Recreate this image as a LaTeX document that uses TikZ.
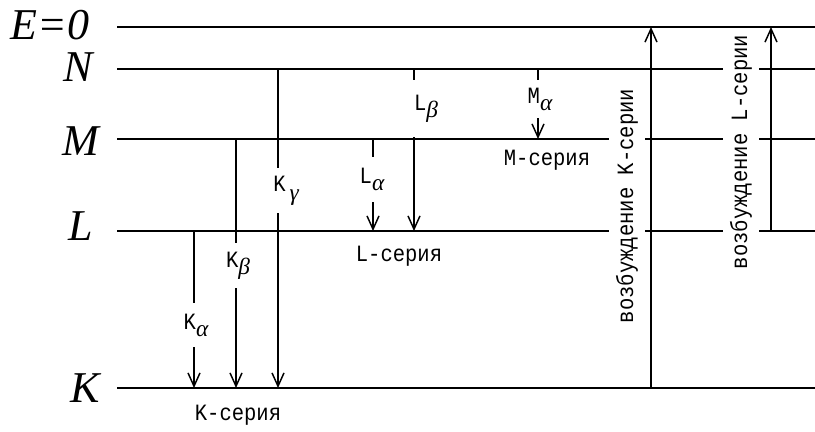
\documentclass[tikz,border=0pt]{standalone}
\usepackage{fontspec}
\setmainfont{Liberation Serif}
\newfontfamily\seriesfont[FakeStretch=0.88]{Liberation Mono}
\newfontfamily\greekfont{Liberation Serif}
\newcommand\lowsub[2][0.3em]{\raisebox{-#1}{\greekfont\itshape #2}}
\usetikzlibrary{arrows.meta}

\begin{document}
\begin{tikzpicture}[
  x=0.75pt, y=-0.75pt,
  lvl/.style={font=\fontsize{33}{33}\selectfont\itshape, inner sep=0pt},
  lab/.style={font=\seriesfont\fontsize{17.5}{18}\selectfont, inner sep=0pt},
  vlab/.style={lab, rotate=90, fill=white, inner xsep=0pt, inner ysep=5pt},
  level/.style={line width=1.3pt},
  line/.style={line width=1.3pt},
  arrow/.style={line width=1.3pt, -{Straight Barb[length=10pt, width=9pt, line width=1.1pt]}}
]
\useasboundingbox (0,0) rectangle (815,432);

% energy levels
\node[lvl] (lvE) at (50,25) {E=0};
\node[lvl] (lvN) at (78,67) {N};
\node[lvl] (lvM) at (81,141) {M};
\node[lvl] (lvL) at (81,226) {L};
\node[lvl] (lvK) at (85,388) {K};

\coordinate (E0) at (117,27);  \coordinate (E1) at (815,27);
\coordinate (N0) at (117,69);  \coordinate (N1) at (815,69);
\coordinate (M0) at (117,139); \coordinate (M1) at (815,139);
\coordinate (L0) at (117,231); \coordinate (L1) at (815,231);
\coordinate (K0) at (117,388); \coordinate (K1) at (815,388);

\draw[level] (E0) -- (E1);
\draw[level] (N0) -- (N1);
\draw[level] (M0) -- (M1);
\draw[level] (L0) -- (L1);
\draw[level] (K0) -- (K1);

% K series
\node[lab, minimum height=33pt] (Ka) at (196,325) {K\lowsub{α}};
\node[lab, minimum height=34pt] (Kb) at (238,265.5) {K\lowsub{β}};
\node[lab, minimum height=34pt] (Kg) at (286,190.5) {K\,\lowsub[0.4em]{γ}};
\coordinate (ka) at (194,0);
\coordinate (kb) at (236,0);
\coordinate (kg) at (278,0);
\draw[line] (ka |- L0) -- (ka |- Ka.north);
\draw[arrow] (ka |- Ka.south) -- (ka |- K0);
\draw[line] (kb |- M0) -- (kb |- Kb.north);
\draw[arrow] (kb |- Kb.south) -- (kb |- K0);
\draw[line] (kg |- N0) -- (kg |- Kg.north);
\draw[arrow] (kg |- Kg.south) -- (kg |- K0);
\node[lab] (Kser) at (238,415) {K-серия};

% L series
\node[lab, minimum height=34pt] (La) at (372,179.5) {L\lowsub{α}};
\node[lab, minimum height=43pt] (Lb) at (426,108.5) {L\lowsub{β}};
\coordinate (la) at (373,0);
\coordinate (lb) at (414,0);
\draw[line] (la |- M0) -- (la |- La.north);
\draw[arrow] (la |- La.south) -- (la |- L0);
\draw[line] (lb |- N0) -- (lb |- Lb.north);
\draw[arrow] (lb |- Lb.south) -- (lb |- L0);
\node[lab] (Lser) at (399,256) {L-серия};

% M series
\node[lab, minimum height=28.5pt] (Ma) at (540,99) {M\lowsub{α}};
\coordinate (ma) at (538,0);
\draw[line] (ma |- N0) -- (ma |- Ma.north);
\draw[arrow] (ma |- Ma.south) -- (ma |- M0);
\node[lab] (Mser) at (547,160) {M-серия};

% excitation
\node[vlab] (Kexc) at (627,206) {возбуждение K-серии};
\node[vlab] (Lexc) at (741,152) {возбуждение L-серии};
\coordinate (kx) at (651,0);
\coordinate (lx) at (771,0);
\draw[arrow] (kx |- K0) -- (kx |- E0);
\draw[arrow] (lx |- L0) -- (lx |- E0);

\end{tikzpicture}
\end{document}
